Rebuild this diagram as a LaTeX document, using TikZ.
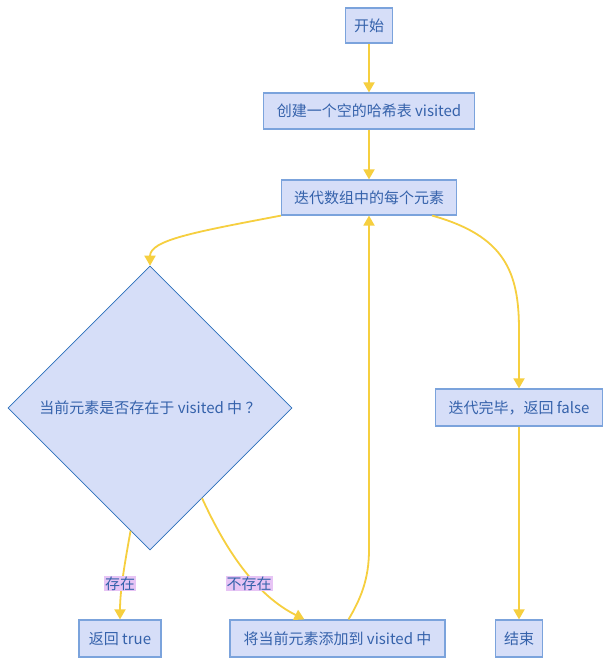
\documentclass[tikz,border=0pt]{standalone}
\usepackage{fontspec}
\setmainfont{Noto Sans CJK SC}
\usetikzlibrary{shapes.geometric,arrows.meta}
\definecolor{nfill}{HTML}{D6DEF8}
\definecolor{ndraw}{HTML}{7BA3DC}
\definecolor{ddraw}{HTML}{2A6EBB}
\definecolor{ntext}{HTML}{3562AB}
\definecolor{edgec}{HTML}{F6CF3F}
\definecolor{lblfill}{HTML}{E7C4F5}
\begin{document}
\begin{tikzpicture}[x=1pt,y=-1pt,
  box/.style={draw=ndraw,fill=nfill,line width=1.2pt,text=ntext,inner sep=0pt,
    font=\fontsize{15}{18}\selectfont},
  dia/.style={diamond,draw=ddraw,fill=nfill,line width=0.6pt,text=ntext,inner sep=0pt,
    minimum width=284pt,minimum height=284pt,font=\fontsize{15}{18}\selectfont},
  lbl/.style={fill=lblfill,text=ntext,inner sep=1pt,font=\fontsize{15}{18}\selectfont},
  flow/.style={draw=edgec,color=edgec,line width=1.8pt,-{Triangle[length=10pt,width=11pt]}}]
\useasboundingbox (0,0) rectangle (611,665);
\fill[white] (0,0) rectangle (611,665);
\node[box,minimum width=47pt,minimum height=35pt] (start) at (369,25.5) {开始};
\node[box,minimum width=211pt,minimum height=36pt] (hash) at (369,111) {创建一个空的哈希表 visited};
\node[box,minimum width=175pt,minimum height=35pt] (iter) at (369,197.5) {迭代数组中的每个元素};
\node[dia] (check) at (150,408) {当前元素是否存在于 visited 中 ？};
\node[box,minimum width=167pt,minimum height=37pt] (false) at (519,407.5) {迭代完毕，返回 false};
\node[box,minimum width=82pt,minimum height=37pt] (true) at (120,638.5) {返回 true};
\node[box,minimum width=215pt,minimum height=37pt] (add) at (337.5,638.5) {将当前元素添加到 visited 中};
\node[box,minimum width=47pt,minimum height=37pt] (end) at (519,638.5) {结束};

\draw[flow] (start.south) .. controls +(0,10) and +(0,-10) .. (hash.north);
\draw[flow] (hash.south) .. controls +(0,10) and +(0,-10) .. (iter.north);
\draw[flow] (iter.south west) .. controls (195,232) and (150,240) .. (check.north);
\draw[flow] (iter.-16) .. controls (505,236) and (519,272) .. (519,330) -- (false.north);
\draw[flow] (check.-99) .. controls (125,562) and (120,590) .. (true.north);
\draw[flow] (check.-60) .. controls (228,555) and (258,596) .. (add.150);
\draw[flow] (add.60) .. controls (360,600) and (369,580) .. (369,550) -- (iter.south);
\draw[flow] (false.south) .. controls +(0,40) and +(0,-40) .. (end.north);

\node[lbl] (yes) at (120,583.5) {存在};
\node[lbl] (no) at (249,583.5) {不存在};
\end{tikzpicture}
\end{document}
